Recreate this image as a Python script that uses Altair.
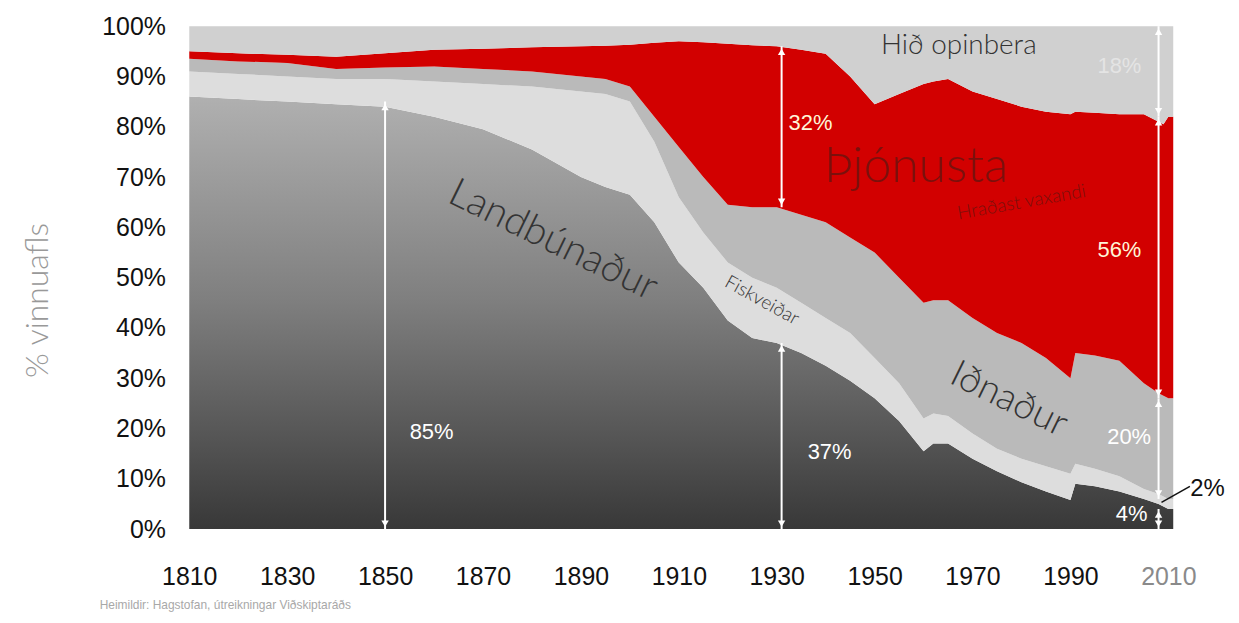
import altair as alt
import pandas as pd

# ---------------- data (shares of labour force, %) ----------------
years = [1810, 1820, 1830, 1840, 1850, 1860, 1870, 1880, 1890, 1895, 1900, 1905,
         1910, 1915, 1920, 1925, 1930, 1935, 1940, 1945, 1950, 1955, 1960, 1962,
         1965, 1970, 1975, 1980, 1985, 1990, 1991, 1995, 2000, 2005, 2008, 2009,
         2010, 2011]
landbunadur = [86, 85.5, 85, 84.5, 84, 82, 79.5, 75.5, 70, 68, 66.5, 61,
               53, 48, 41.5, 38, 37, 35, 32.5, 29.5, 26, 21.5, 15.5, 17,
               17, 14, 11.5, 9.3, 7.5, 5.8, 9, 8.5, 7.5, 6, 5, 4.5,
               4, 4]
fiskveidar = [5, 5, 5, 5, 5.5, 7, 9, 12.5, 17, 18.5, 18.5, 16,
              13, 11, 11.5, 12, 11, 10, 9.5, 9.5, 8, 7.5, 6.5, 6,
              5.5, 5, 4.5, 4.7, 5, 5.2, 4, 3.5, 3, 2, 2, 2,
              2, 2]
idnadur = [2.5, 2.5, 2.7, 2, 2.3, 3, 3, 3, 3, 3, 3, 5,
           10, 11, 11.5, 14, 16, 17.5, 19, 19, 21, 21, 23, 22.5,
           23, 23, 23, 23, 21.5, 19, 22, 22.5, 23, 21, 20, 20,
           20, 20]
thjonusta = [1.5, 1.6, 1.6, 2.4, 2.8, 3.3, 4, 4.8, 6, 6.6, 8.3, 14.7,
             21, 26.8, 32, 32.2, 32, 32.8, 33.5, 32, 29.5, 36.5, 43.5, 43.5,
             44, 45, 46.5, 47, 49, 52.5, 48, 48.3, 49, 53.5, 54, 54,
             56, 56]
hid_opinbera = [5, 5.4, 5.7, 6.1, 5.4, 4.7, 4.5, 4.2, 4, 3.9, 3.7, 3.3,
                3, 3.2, 3.5, 3.8, 4, 4.7, 5.5, 10, 15.5, 13.5, 11.5, 11,
                10.5, 13, 14.5, 16, 17, 17.5, 17, 17.2, 17.5, 17.5, 19, 19.5,
                18, 18]

sectors = ["Landbúnaður", "Fiskveiðar", "Iðnaður", "Þjónusta", "Hið opinbera"]
series = [landbunadur, fiskveidar, idnadur, thjonusta, hid_opinbera]

x_ticks = [1810, 1830, 1850, 1870, 1890, 1910, 1930, 1950, 1970, 1990, 2010]
y_ticks = [0, 10, 20, 30, 40, 50, 60, 70, 80, 90, 100]

# measurement arrows (year, from %, to %)
arrow_year = [1850, 1931, 1931, 2008, 2008, 2008, 2008]
arrow_lo = [0, 0, 64, 82, 26, 6, 0]
arrow_hi = [85, 37, 96, 100, 82, 26, 4]

# numeric labels
num_text = ["85%", "37%", "32%", "56%", "18%", "20%", "4%"]
num_year = [1859.5, 1940.8, 1936.9, 2000.0, 2000.0, 2002.0, 2002.5]
num_pct = [19.4, 15.4, 80.8, 55.4, 92.0, 18.4, 3.0]
num_color = ["#ffffff", "#ffffff", "#fff6d8", "#fff6d8", "#e4e4e4", "#ffffff", "#ffffff"]

# sector labels
lab_text = ["Hið opinbera", "Þjónusta", "Hraðast vaxandi", "Landbúnaður", "Fiskveiðar", "Iðnaður"]
lab_year = [1967.2, 1958.5, 1980.0, 1884.3, 1927.0, 1977.4]
lab_pct = [96.0, 72.0, 65.0, 57.4, 45.5, 25.7]
lab_size = [28, 50, 19, 40, 19, 38]
lab_angle = [0, 0, 350, 26, 29, 26]
lab_color = ["#333333", "#7a100c", "#7a100c", "#333333", "#333333", "#333333"]

# "2%" callout
small_text = "2%"
small_year = 2018.0
small_pct = 7.9
leader_year = [2008.6, 2014.4]
leader_pct = [5.3, 8.5]

source_text = "Heimildir: Hagstofan, útreikningar Viðskiptaráðs"

# ---------------- build tables ----------------
rows = []
for i, yr in enumerate(years):
    lo = 0.0
    for s, vals in zip(sectors, series):
        hi = lo + vals[i]
        rows.append({"year": yr, "sector": s, "lo": lo, "hi": hi})
        lo = hi
df = pd.DataFrame(rows)

LABEL_FONT = "Lato"
xscale = alt.Scale(domain=[1810, 2011], nice=False, zero=False)
yscale = alt.Scale(domain=[0, 100], nice=False, zero=True)

xaxis = alt.Axis(values=x_ticks, format="d", grid=False, domain=False, ticks=False,
                 labelFont="Liberation Sans", labelFontSize=25, labelPadding=36,
                 labelFlush=False, labelOverlap=False,
                 labelColor=alt.condition("datum.value == 2010", alt.value("#8a8a8a"), alt.value("#111111")),
                 title=None)
yaxis = alt.Axis(values=y_ticks, labelExpr="datum.value + '%'", grid=False, domain=False,
                 ticks=False, labelFont="Liberation Sans", labelFontSize=25, labelColor="#111111",
                 labelPadding=24, labelFlush=False, title="% vinnuafls", titleFont=LABEL_FONT,
                 titleFontSize=32, titleFontWeight=300, titleColor="#999999", titleAngle=270,
                 titleX=-152, titleY=275, titleAlign="center", titleBaseline="middle")

def X(field="year"):
    return alt.X(f"{field}:Q", scale=xscale, axis=xaxis)

def Y(field):
    return alt.Y(f"{field}:Q", scale=yscale, axis=yaxis)

fills = {
    "Landbúnaður": alt.Gradient(gradient="linear",
                                stops=[alt.GradientStop(color="#b0b0b0", offset=0),
                                       alt.GradientStop(color="#7f7f7f", offset=0.47),
                                       alt.GradientStop(color="#555555", offset=0.79),
                                       alt.GradientStop(color="#383838", offset=1)],
                                x1=0, x2=0, y1=0, y2=1),
    "Fiskveiðar": "#dddddd",
    "Iðnaður": "#bababa",
    "Þjónusta": "#d20000",
    "Hið opinbera": "#d0d0d0",
}

layers = []
for s in sectors:
    layers.append(
        alt.Chart(df[df["sector"] == s]).mark_area(color=fills[s], interpolate="linear")
        .encode(x=X(), y=Y("lo"), y2="hi:Q")
    )

arrows = pd.DataFrame({"year": arrow_year, "lo": arrow_lo, "hi": arrow_hi})
arrows["head_top"] = arrows["hi"] - 1.1
arrows["head_bot"] = arrows["lo"] + 1.1
layers.append(alt.Chart(arrows).mark_rule(color="white", strokeWidth=2)
              .encode(x=X(), y=Y("lo"), y2="hi:Q"))
layers.append(alt.Chart(arrows).mark_point(shape="triangle-up", filled=True, color="white",
                                           size=55, opacity=1)
              .encode(x=X(), y=Y("head_top")))
layers.append(alt.Chart(arrows).mark_point(shape="triangle-down", filled=True, color="white",
                                           size=55, opacity=1)
              .encode(x=X(), y=Y("head_bot")))

for t, xx, yy, c in zip(num_text, num_year, num_pct, num_color):
    layers.append(alt.Chart(pd.DataFrame({"year": [xx], "pct": [yy], "t": [t]}))
                  .mark_text(font="Liberation Sans", fontSize=22, color=c, align="center",
                             baseline="middle")
                  .encode(x=X(), y=Y("pct"), text="t:N"))

for t, xx, yy, sz, ang, c in zip(lab_text, lab_year, lab_pct, lab_size, lab_angle, lab_color):
    layers.append(alt.Chart(pd.DataFrame({"year": [xx], "pct": [yy], "t": [t]}))
                  .mark_text(font=LABEL_FONT, fontSize=sz, fontWeight=300, color=c, angle=ang,
                             align="center", baseline="middle")
                  .encode(x=X(), y=Y("pct"), text="t:N"))

leader = pd.DataFrame({"year": [leader_year[0]], "year2": [leader_year[1]],
                       "pct": [leader_pct[0]], "pct2": [leader_pct[1]]})
layers.append(alt.Chart(leader).mark_rule(color="#111111", strokeWidth=1.5)
              .encode(x=X(), x2="year2:Q", y=Y("pct"), y2="pct2:Q"))
layers.append(alt.Chart(pd.DataFrame({"year": [small_year], "pct": [small_pct], "t": [small_text]}))
              .mark_text(font="Liberation Sans", fontSize=24, color="#111111", align="center",
                         baseline="middle")
              .encode(x=X(), y=Y("pct"), text="t:N"))

layers.append(alt.Chart(pd.DataFrame({"t": [source_text]}))
              .mark_text(font="Liberation Sans", fontSize=12, color="#a8a8a8", align="left",
                         baseline="middle")
              .encode(x=alt.value(-90), y=alt.value(581), text="t:N"))

chart = alt.layer(*layers).properties(
    width=988, height=505,
    padding={"left": 182, "top": 17, "right": 58, "bottom": 90},
    autosize=alt.AutoSizeParams(type="none"),
    background="white",
).configure_view(stroke=None)

chart.save("out.html", embed_options={"renderer": "svg", "actions": False})
